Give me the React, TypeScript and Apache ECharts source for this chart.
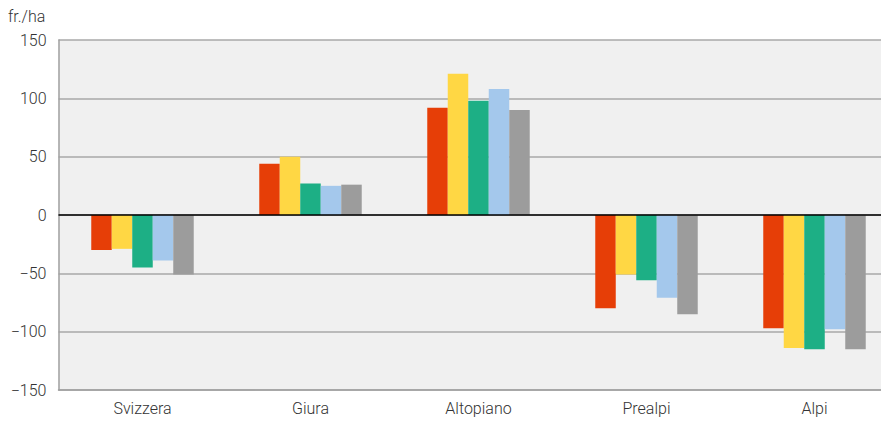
import React, { useEffect, useRef } from "react";
import * as echarts from "echarts";

const categories = ["Svizzera", "Giura", "Altopiano", "Prealpi", "Alpi"];
const series1 = [-30, 44, 92, -80, -97];
const series2 = [-29, 50, 121, -51, -114];
const series3 = [-45, 27, 98, -56, -115];
const series4 = [-39, 25, 108, -71, -98];
const series5 = [-51, 26, 90, -85, -115];
const colors = ["#e63e07", "#ffd744", "#1daf85", "#a4c8ec", "#9c9c9c"];
const yTicks = { min: -150, max: 150, interval: 50 };
const unitLabel = "fr./ha";

export default function App() {
  const ref = useRef<HTMLDivElement>(null);
  useEffect(() => {
    if (!ref.current) return;
    const chart = echarts.init(ref.current, null, { renderer: "svg" });
    const all = [series1, series2, series3, series4, series5];
    const font = "Roboto, sans-serif";
    chart.setOption({
      animation: false,
      textStyle: { fontFamily: font },
      graphic: [
        {
          type: "text",
          left: 0,
          top: 0,
          style: { text: unitLabel, fontSize: 16, fontWeight: 300, fill: "#333", fontFamily: font },
        },
      ],
      grid: {
        left: 50.5,
        width: 840,
        top: 32,
        bottom: 32,
        outerBoundsMode: "none",
        containLabel: false,
        show: true,
        backgroundColor: "#f0f0f0",
        borderWidth: 0,
      },
      xAxis: {
        type: "category",
        data: categories,
        axisLine: { show: true, onZero: false, lineStyle: { color: "#a0a0a0", width: 1.5 } },
        axisTick: { show: false },
        axisLabel: { fontSize: 16, fontWeight: 300, color: "#333", margin: 10, fontFamily: font },
        splitLine: { show: false },
      },
      yAxis: {
        type: "value",
        min: yTicks.min,
        max: yTicks.max,
        interval: yTicks.interval,
        axisLine: { show: true, lineStyle: { color: "#a0a0a0", width: 1.5 } },
        axisTick: { show: false },
        axisLabel: {
          fontSize: 16,
          fontWeight: 300,
          color: "#333",
          margin: 12,
          fontFamily: font,
          formatter: (v: number) => String(v).replace("-", "\u2212"),
        },
        splitLine: { show: true, lineStyle: { color: "#a8a8a8", width: 1.5 } },
      },
      series: all.map((d, i) => ({
        type: "bar",
        data: d,
        itemStyle: { color: colors[i] },
        barGap: "0%",
        barCategoryGap: "39%",
        markLine:
          i === 0
            ? {
                silent: true,
                symbol: "none",
                label: { show: false },
                lineStyle: { color: "#000", width: 1.5, type: "solid" },
                data: [{ yAxis: 0 }],
                z: 10,
              }
            : undefined,
      })),
    });
    return () => chart.dispose();
  }, []);
  return <div ref={ref} style={{ width: 881, height: 414 }} />;
}
